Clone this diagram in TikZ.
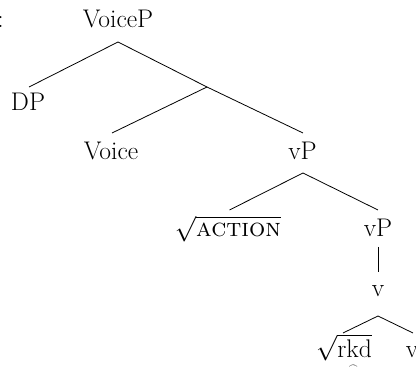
\RequirePackage{fix-cm}
\documentclass[tikz,border=0pt]{standalone}
\usepackage{amsmath}
\usepackage{fontspec}
\usetikzlibrary{calc}
\begin{document}
\begin{tikzpicture}[x=1pt,y=-1pt,
  font=\fontsize{25.5}{30}\selectfont,
  lbl/.style={inner sep=0pt, anchor=base},
  edge/.style={line width=0.8pt}]
\useasboundingbox (0,0) rectangle (416,371);
\clip (0,0) rectangle (416,371);
\node[lbl] (colon) at (0.5,28) {:};
\node[lbl] (voicep) at (118,28) {VoiceP};
\node[lbl] (dp) at (28,111) {DP};
\coordinate (bar) at (207,87);
\node[lbl] (voice) at (111,160) {Voice};
\node[lbl] (vp1) at (302.5,160) {vP};
\node[lbl] (action) at (228,237) {$\sqrt{\text{\textsc{action}}}$};
\node[lbl] (vp2) at (378,237) {vP};
\node[lbl] (v1) at (378,297) {v};
\node[lbl] (rkd) at (344,358) {$\sqrt{\text{r\rlap{\makebox[0.528em]{\raisebox{-0.40em}[0pt][0pt]{\fontsize{9}{9}\selectfont$\frown$}}}kd}}$};
\node[lbl] (v2) at (412,358) {v};
\draw[edge] ($(voicep.base)+(0,14)$) -- ($(dp.base)+(1,-24)$);
\draw[edge] ($(voicep.base)+(0,14)$) -- (bar);
\draw[edge] (bar) -- ($(voice.base)+(1,-27)$);
\draw[edge] (bar) -- ($(vp1.base)+(0.5,-27)$);
\draw[edge] ($(vp1.base)+(0.5,13)$) -- ($(action.base)+(1.5,-27)$);
\draw[edge] ($(vp1.base)+(0.5,13)$) -- ($(vp2.base)+(0,-27)$);
\draw[edge] ($(vp2.base)+(0,10)$) -- ($(v1.base)+(0,-25)$);
\draw[edge] ($(v1.base)+(0,19)$) -- ($(rkd.base)+(-1,-25)$);
\draw[edge] ($(v1.base)+(0,19)$) -- ($(v2.base)+(1,-25)$);
\end{tikzpicture}
\end{document}
